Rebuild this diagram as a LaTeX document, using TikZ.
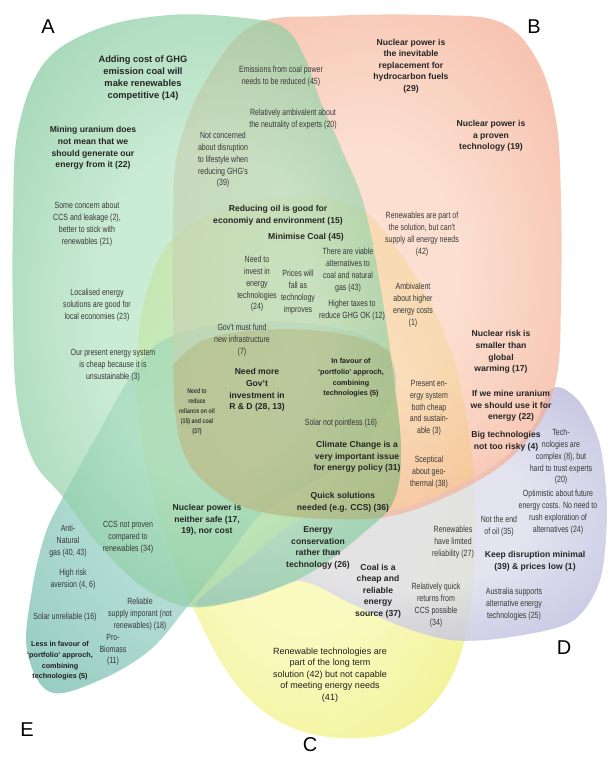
\documentclass[tikz,border=0pt]{standalone}
\usepackage{fontspec}
\setmainfont{Liberation Sans}
\newfontfamily\narrowfont[FakeStretch=0.78]{Liberation Sans}
\definecolor{Ain}{RGB}{178,226,192}
\definecolor{Aout}{RGB}{64,166,104}
\definecolor{Bin}{RGB}{250,206,184}
\definecolor{Bout}{RGB}{236,118,78}
\definecolor{Cin}{RGB}{248,248,172}
\definecolor{Cout}{RGB}{228,228,50}
\definecolor{Din}{RGB}{222,222,238}
\definecolor{Dout}{RGB}{145,145,198}
\definecolor{Ein}{RGB}{125,196,182}
\definecolor{Eout}{RGB}{45,148,128}
\definecolor{khaki}{RGB}{178,172,104}
\pgfdeclareradialshading{shA}{\pgfpoint{0bp}{0bp}}{color(0bp)=(Ain); color(14bp)=(Ain); color(50bp)=(Aout)}
\pgfdeclareradialshading{shB}{\pgfpoint{0bp}{0bp}}{color(0bp)=(Bin); color(12bp)=(Bin); color(50bp)=(Bout)}
\pgfdeclareradialshading{shC}{\pgfpoint{0bp}{0bp}}{color(0bp)=(Cin); color(15bp)=(Cin); color(50bp)=(Cout)}
\pgfdeclareradialshading{shD}{\pgfpoint{0bp}{0bp}}{color(0bp)=(Din); color(15bp)=(Din); color(50bp)=(Dout)}
\pgfdeclareradialshading{shE}{\pgfpoint{0bp}{0bp}}{color(0bp)=(Ein); color(15bp)=(Ein); color(50bp)=(Eout)}
\begin{document}
\begin{tikzpicture}[x=1pt,y=-1pt,
  bt/.style={font=\bfseries\fontsize{8.6}{11.6}\selectfont, align=center, text=black!85, inner sep=0},
  sbt/.style={font=\bfseries\fontsize{7.2}{10.6}\selectfont, align=center, text=black!88, inner sep=0},
  nt/.style={font=\narrowfont\fontsize{9}{11.8}\selectfont, align=center, text=black!78, inner sep=0},
  snt/.style={font=\narrowfont\bfseries\fontsize{6.8}{10}\selectfont, align=center, text=black!78, inner sep=0},
  rt/.style={font=\fontsize{9}{11.6}\selectfont, align=center, text=black!88, inner sep=0},
  lab/.style={font=\fontsize{20}{20}\selectfont, inner sep=0},
]
\useasboundingbox (0,0) rectangle (608,761);
\fill[white] (0,0) rectangle (608,761);

\def\pathA{plot[smooth cycle, tension=0.6] coordinates {
 (13,220) (18,130) (45,62) (100,28) (170,15) (235,17) (283,27) (305,58) (320,100)
 (342,150) (364,205) (381,290) (394,380) (401,450) (394,500) (367,530) (310,573)
 (250,597) (190,607) (140,585) (95,540) (63,497) (33,460) (17,400) (13,320)}}
\def\pathB{plot[smooth cycle, tension=0.6] coordinates {
 (173,220) (178,150) (205,82) (253,25) (330,16) (430,15) (500,22) (537,60)
 (556,120) (561,200) (561,300) (557,375) (537,427) (491,473) (404,513) (330,519)
 (257,511) (217,492) (187,460) (175,410) (173,320)}}

% set C (yellow)
\shade[shading=shC, fill opacity=0.75] plot[smooth cycle, tension=0.6] coordinates {
 (300,197) (362,210) (410,268) (447,340) (467,420) (476,520) (470,610) (450,680)
 (404,728) (340,738) (280,722) (233,680) (193,607) (160,520) (140,430) (137,360)
 (146,295) (172,240) (230,207)};
% set D (lavender)
\shade[shading=shD, fill opacity=0.8] plot[smooth cycle, tension=0.5] coordinates {
 (196,604) (245,562) (287,528) (322,512) (404,508) (490,468) (533,427) (548,392)
 (562,388) (582,405) (600,445) (607,510) (600,580) (571,622) (504,638) (450,640)
 (400,626) (350,603) (300,581) (250,598)};
% set E (teal)
\shade[shading=shE, fill opacity=0.6] plot[smooth cycle, tension=0.6] coordinates {
 (27,650) (32,590) (45,535) (63,497) (100,430) (140,362) (175,335) (240,322)
 (320,325) (380,345) (395,390) (360,450) (300,490) (260,515) (225,560) (187,607)
 (150,650) (100,680) (50,692)};
% set B (orange)
\shade[shading=shB, fill opacity=0.65] \pathB;
% set A (green)
\shade[shading=shA, fill opacity=0.68] \pathA;
% central region of all sets
\begin{scope}
 \clip \pathA;
 \clip \pathB;
 \fill[khaki, fill opacity=0.38] plot[smooth, tension=0.6] coordinates {
  (160,380) (200,342) (260,330) (330,332) (385,348) (410,380)} -- (420,540) -- (160,540) -- cycle;
\end{scope}

% set labels
\node[lab] (labA) at (48,27) {A};
\node[lab] (labB) at (534,27) {B};
\node[lab] (labC) at (310,745) {C};
\node[lab] (labD) at (564,648) {D};
\node[lab] (labE) at (27,730) {E};

% texts
\node[bt, font=\bfseries\fontsize{9.3}{12}\selectfont] (t1) at (143,78) {Adding cost of GHG\\emission coal will\\make renewables\\competitive (14)};
\node[bt] (t2) at (93,148) {Mining uranium does\\not mean that we\\should generate our\\energy from it (22)};
\node[nt] (t3) at (281,76) {Emissions from coal power\\needs to be reduced (45)};
\node[nt] (t4) at (293,119) {Relatively ambivalent about\\the neutrality of experts (20)};
\node[nt] (t5) at (223,160) {Not concerned\\about disruption\\to lifestyle when\\reducing GHG's\\(39)};
\node[bt] (t6) at (411,66) {Nuclear power is\\the inevitable\\replacement for\\hydrocarbon fuels\\(29)};
\node[bt] (t7) at (491,136) {Nuclear power is\\a proven\\technology (19)};
\node[nt] (t8) at (87,224) {Some concern about\\CCS and leakage (2),\\better to stick with\\renewables (21)};
\node[bt] (t9) at (278,215) {Reducing oil is good for\\economiy and environment (15)};
\node[bt] (t10) at (306,237) {Minimise Coal (45)};
\node[nt] (t11) at (257,284) {Need to\\invest in\\energy\\technologies\\(24)};
\node[nt] (t12) at (298,292) {Prices will\\fall as\\technology\\improves};
\node[nt] (t13) at (348,270) {There are viable\\alternatives to\\coal and natural\\gas (43)};
\node[nt] (t14) at (352,310) {Higher taxes to\\reduce GHG OK (12)};
\node[nt] (t15) at (242,340) {Gov't must fund\\new infrastructure\\(7)};
\node[nt] (t16) at (422,234) {Renewables are part of\\the solution, but can't\\supply all energy needs\\(42)};
\node[nt] (t17) at (413,305) {Ambivalent\\about higher\\energy costs\\(1)};
\node[nt] (t18) at (97,305) {Localised energy\\solutions are good for\\local economies (23)};
\node[nt] (t19) at (113,365) {Our present energy system\\is cheap because it is\\unsustainable (3)};
\node[bt] (t20) at (257,390) {Need more\\Gov't\\investment in\\R \& D (28, 13)};
\node[snt] (t21) at (197,412) {Need to\\reduce\\reliance on oil\\(15) and coal\\(37)};
\node[sbt] (t22) at (351,378) {In favour of\\`portfolio' approch,\\combining\\technologies (5)};
\node[nt] (t23) at (341,423) {Solar not pointless (16)};
\node[bt] (t24) at (357,457) {Climate Change is a\\very important issue\\for energy policy (31)};
\node[bt] (t25) at (343,502) {Quick solutions\\needed (e.g. CCS) (36)};
\node[nt] (t26) at (429,408) {Present en-\\ergy system\\both cheap\\and sustain-\\able (3)};
\node[nt] (t27) at (429,472) {Sceptical\\about geo-\\thermal (38)};
\node[bt] (t28) at (501,352) {Nuclear risk is\\smaller than\\global\\warming (17)};
\node[bt] (t29) at (511,406) {If we mine uranium\\we should use it for\\energy (22)};
\node[bt] (t30) at (506,441) {Big technologies\\not too risky (4)};
\node[nt] (t31) at (561,457) {Tech-\\nologies are\\complex (8), but\\hard to trust experts\\(20)};
\node[nt] (t32) at (558,512) {Optimistic about future\\energy costs. No need to\\rush exploration of\\alternatives (24)};
\node[nt] (t33) at (499,526) {Not the end\\of oil (35)};
\node[nt] (t34) at (453,542) {Renewables\\have limited\\reliability (27)};
\node[bt] (t35) at (535,561) {Keep disruption minimal\\(39) \& prices low (1)};
\node[nt] (t36) at (514,604) {Australia supports\\alternative energy\\technologies (25)};
\node[bt] (t37) at (378,591) {Coal is a\\cheap and\\reliable\\energy\\source (37)};
\node[nt] (t38) at (436,605) {Relatively quick\\returns from\\CCS possible\\(34)};
\node[bt] (t39) at (318,548) {Energy\\conservation\\rather than\\technology (26)};
\node[bt] (t40) at (207,520) {Nuclear power is\\neither safe (17,\\19), nor cost};
\node[nt] (t41) at (128,537) {CCS not proven\\compared to\\renewables (34)};
\node[nt] (t42) at (68,541) {Anti-\\Natural\\gas (40, 43)};
\node[nt] (t43) at (73,579) {High risk\\aversion (4, 6)};
\node[nt] (t44) at (65,617) {Solar unreliable (16)};
\node[nt] (t45) at (140,614) {Reliable\\supply imporant (not\\renewables) (18)};
\node[nt] (t46) at (113,650) {Pro-\\Biomass\\(11)};
\node[sbt] (t47) at (60,661) {Less in favour of\\`portfolio' approch,\\combining\\technologies (5)};
\node[rt] (t48) at (330,675) {Renewable technologies are\\part of the long term\\solution (42) but not capable\\of meeting energy needs\\(41)};
\end{tikzpicture}
\end{document}
